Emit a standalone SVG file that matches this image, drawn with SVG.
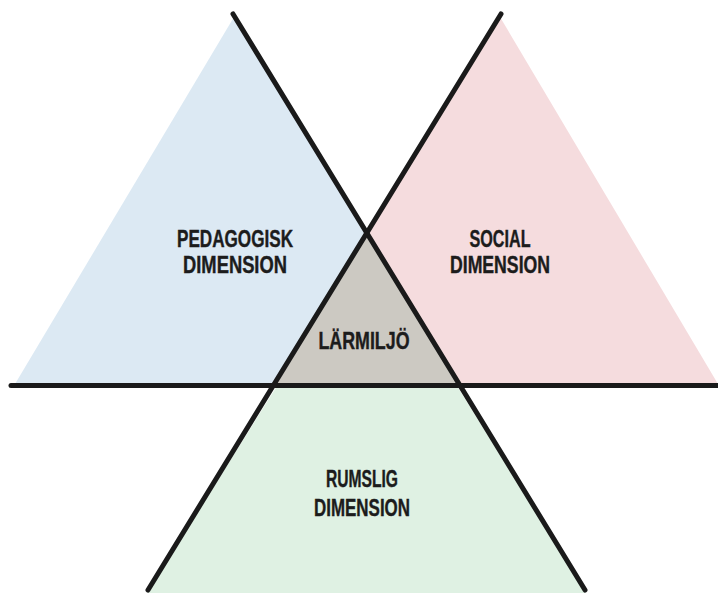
<svg xmlns="http://www.w3.org/2000/svg" width="718" height="593" viewBox="0 0 718 593">
<style>
.lbl{font-family:"Liberation Sans",Arial,sans-serif;font-weight:bold;font-size:23px;fill:#1c1c1c;stroke:#1c1c1c;stroke-width:0.4;text-anchor:middle}
.ln{stroke:#1a1a1a;stroke-width:5;fill:none;stroke-linecap:round}
</style>
<rect width="718" height="593" fill="#ffffff"/>
<g id="pedagogisk">
<polygon points="234,17 15,384 457,384" fill="#dce9f3"/>
<text class="lbl" x="235" y="247" textLength="116" lengthAdjust="spacingAndGlyphs">PEDAGOGISK</text>
<text class="lbl" x="235" y="273" textLength="104" lengthAdjust="spacingAndGlyphs">DIMENSION</text>
</g>
<g id="social">
<polygon points="500,17 718,384 277,384" fill="#f5dcde"/>
<text class="lbl" x="500" y="247" textLength="61" lengthAdjust="spacingAndGlyphs">SOCIAL</text>
<text class="lbl" x="500" y="273" textLength="100" lengthAdjust="spacingAndGlyphs">DIMENSION</text>
</g>
<g id="rumslig">
<polygon points="277,386 457,386 586,593 147,593" fill="#dff1e3"/>
<text class="lbl" x="362" y="487" textLength="72" lengthAdjust="spacingAndGlyphs">RUMSLIG</text>
<text class="lbl" x="362" y="516" textLength="96" lengthAdjust="spacingAndGlyphs">DIMENSION</text>
</g>
<g id="larmiljo">
<polygon points="367,233 277,384 457,384" fill="#ccc9c2"/>
<text class="lbl" x="364" y="349" textLength="91" lengthAdjust="spacingAndGlyphs">LÄRMILJÖ</text>
</g>
<g id="connectors">
<line class="ln" x1="233" y1="14" x2="585" y2="590"/>
<line class="ln" x1="501" y1="14" x2="148" y2="590"/>
<line class="ln" x1="11" y1="385.5" x2="718" y2="385.5" stroke-linecap="butt"/>
</g>
</svg>
